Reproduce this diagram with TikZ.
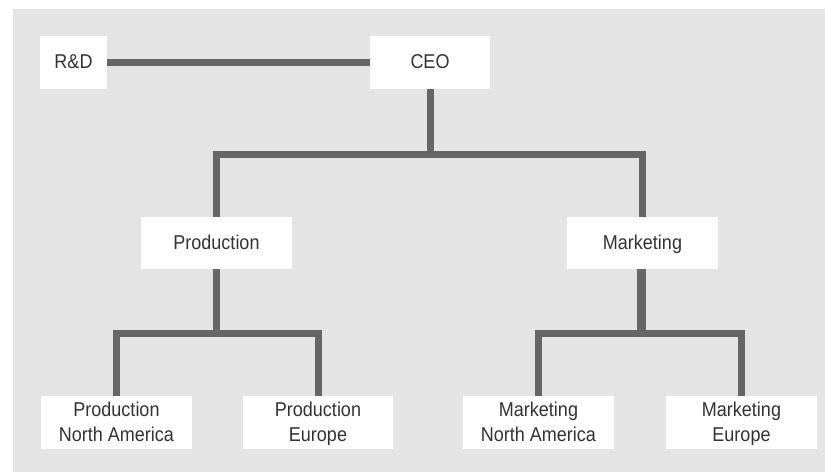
\documentclass[tikz,border=0pt]{standalone}
\usepackage{fontspec}
\setmainfont{Liberation Sans}[FakeStretch=0.9]
% fixed line box so every label sits at the same height
\newcommand\lbl{\rule[-6.5pt]{0pt}{25pt}}
\begin{document}
\begin{tikzpicture}[x=1pt,y=-1pt,
  unit/.style={fill=white, inner sep=0pt, align=center, text=black!80,
    font=\fontsize{20}{25}\selectfont},
  conn/.style={draw=black!60, line width=7pt, line join=miter}]
\useasboundingbox (0,0) rectangle (825,472);
\fill[black!10.5] (13,9) rectangle (825,472);

% top level
\node[unit, minimum width=67pt, minimum height=53pt] (rd) at (73.5,62.5) {\lbl R\&D};
\node[unit, minimum width=120pt, minimum height=53pt] (ceo) at (430,62.5) {\lbl CEO};

% divisions
\node[unit, minimum width=151pt, minimum height=52pt] (prod) at (216.5,243) {\lbl Production};
\node[unit, minimum width=151pt, minimum height=52pt] (mkt) at (642.5,243) {\lbl Marketing};

% regional units
\node[unit, minimum width=151pt, minimum height=53pt] (pna) at (116.5,422.5) {\lbl Production\\\lbl North America};
\node[unit, minimum width=150pt, minimum height=53pt] (peu) at (318,422.5) {\lbl Production\\\lbl Europe};
\node[unit, minimum width=151pt, minimum height=53pt] (mna) at (538.5,422.5) {\lbl Marketing\\\lbl North America};
\node[unit, minimum width=151pt, minimum height=53pt] (meu) at (741.5,422.5) {\lbl Marketing\\\lbl Europe};

% junction points of the branch bars
\coordinate (j0) at (430,154);
\coordinate (j1) at (216.5,333);
\coordinate (j2) at (640,333);

% connectors
\draw[conn] (rd.east) -- (ceo.west);
\draw[conn] (ceo.south) -- (j0);
\draw[conn] (prod.north) |- (j0) -| (mkt.north);
\draw[conn] (prod.south) -- (j1);
\draw[conn] (pna.north) |- (j1) -| (peu.north);
\draw[conn] (mkt.south |- j2) -- (mkt.south);
\draw[conn] (j2) -- (mkt.south -| j2);
\draw[conn] (mna.north) |- (j2) -| (meu.north);
\end{tikzpicture}
\end{document}
